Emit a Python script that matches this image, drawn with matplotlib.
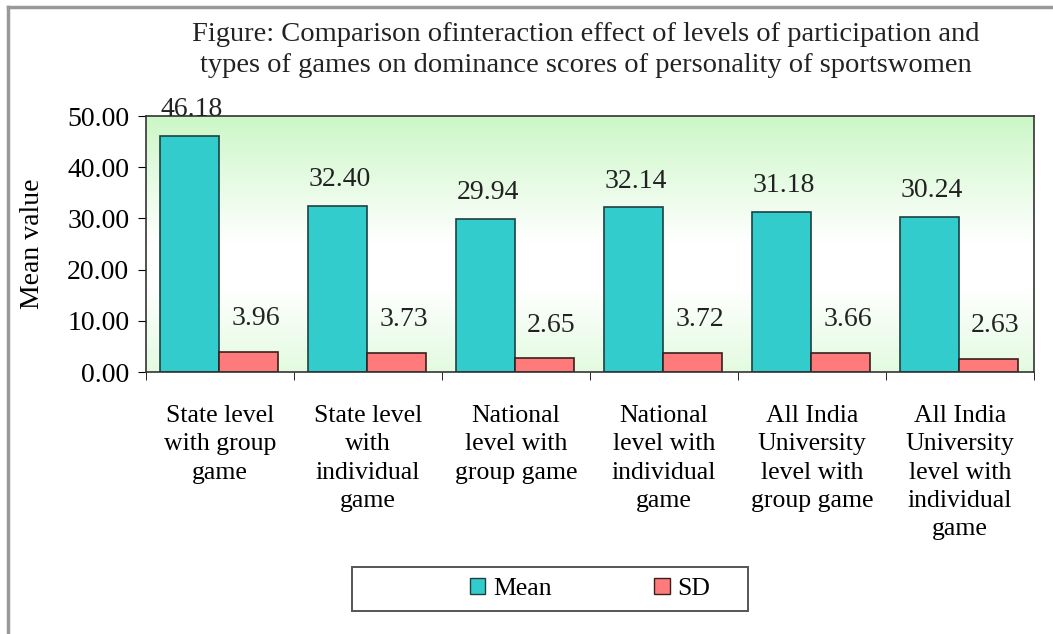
import numpy as np
import matplotlib.pyplot as plt
from matplotlib.lines import Line2D
from matplotlib.patches import Rectangle

plt.rcParams['font.family'] = ['Liberation Serif', 'DejaVu Serif']

categories = ['State level\nwith group\ngame', 'State level\nwith\nindividual\ngame',
              'National\nlevel with\ngroup game', 'National\nlevel with\nindividual\ngame',
              'All India\nUniversity\nlevel with\ngroup game', 'All India\nUniversity\nlevel with\nindividual\ngame']
mean_vals = [46.18, 32.40, 29.94, 32.14, 31.18, 30.24]
sd_vals = [3.96, 3.73, 2.65, 3.72, 3.66, 2.63]

W, H = 1053, 634
fig = plt.figure(figsize=(W / 100, H / 100), dpi=100)
ax = fig.add_axes([146 / W, 1 - 372 / H, (1034 - 146) / W, (372 - 116) / H])

# gradient background: green at top, white in middle, pale green at bottom
g = np.concatenate([np.linspace(0, 1, 60), np.ones(20), np.linspace(1, 0.45, 40)])
c0 = np.array([0.80, 0.97, 0.78])
c1 = np.array([1.0, 1.0, 1.0])
grad = c0[None, :] * (1 - g[:, None]) + c1[None, :] * g[:, None]
ax.imshow(grad[:, None, :], extent=[-0.5, 5.5, 0, 50], aspect='auto', zorder=0)

x = np.arange(len(categories))
bw = 0.4
ax.bar(x - 0.205, mean_vals, bw, color='#33cccc', edgecolor='#1f4040', linewidth=1.2, zorder=2, label='Mean')
ax.bar(x + 0.195, sd_vals, bw, color='#ff7a7a', edgecolor='#3a1f1f', linewidth=1.2, zorder=2, label='SD')

for i in range(len(x)):
    ax.annotate(f'{mean_vals[i]:.2f}', (x[i] - 0.19, mean_vals[i]), xytext=(0, 19),
                textcoords='offset points', ha='center', va='center', fontsize=20, color='#222222',
                annotation_clip=False)
    ax.annotate(f'{sd_vals[i]:.2f}', (x[i] + 0.24, sd_vals[i]), xytext=(0, 24),
                textcoords='offset points', ha='center', va='center', fontsize=20, color='#222222',
                annotation_clip=False)

ax.set_xlim(-0.5, 5.5)
ax.set_ylim(0, 50)
ax.set_yticks(np.arange(0, 51, 10))
ax.set_yticklabels([f'{v:.2f}' for v in np.arange(0, 51, 10)], fontsize=20)
ax.set_xticks(x)
ax.set_xticklabels(categories, fontsize=18.5, linespacing=1.36)
ax.set_xticks(np.arange(-0.5, 6, 1), minor=True)
ax.tick_params(axis='x', which='major', length=0, pad=24)
ax.tick_params(axis='x', which='minor', length=6, direction='out')
ax.tick_params(axis='y', length=6, direction='out', pad=6)
ax.set_ylabel('Mean value', fontsize=20, labelpad=16)
for s in ax.spines.values():
    s.set_color('#333333')
    s.set_linewidth(1.2)

fig.text(586 / W, 1 - 50 / H,
         'Figure: Comparison ofinteraction effect of levels of participation and\n'
         'types of games on dominance scores of personality of sportswomen',
         ha='center', va='center', fontsize=20.5, linespacing=1.32, color='#222222')

handles = [Rectangle((0, 0), 1, 1, fc='#33cccc', ec='#1f4040'),
           Rectangle((0, 0), 1, 1, fc='#ff7a7a', ec='#3a1f1f')]
leg = fig.legend(handles, ['Mean', 'SD'], loc='center', bbox_to_anchor=(590 / W, 1 - 589 / H),
                 ncol=2, fontsize=18.5, frameon=False, columnspacing=4.0,
                 handlelength=0.6, handleheight=0.6, handletextpad=0.3, borderaxespad=0)
fig.add_artist(Rectangle((352 / W, 1 - 611 / H), 396 / W, 44 / H, transform=fig.transFigure,
                         fill=False, edgecolor='#555555', linewidth=1.4))

fig.add_artist(Line2D([8 / W, 8 / W], [0, 1 - 7 / H], color='#999999', lw=2.5))
fig.add_artist(Line2D([8 / W, 1], [1 - 7 / H, 1 - 7 / H], color='#999999', lw=2.5))

fig.savefig('out.png', dpi=100)
